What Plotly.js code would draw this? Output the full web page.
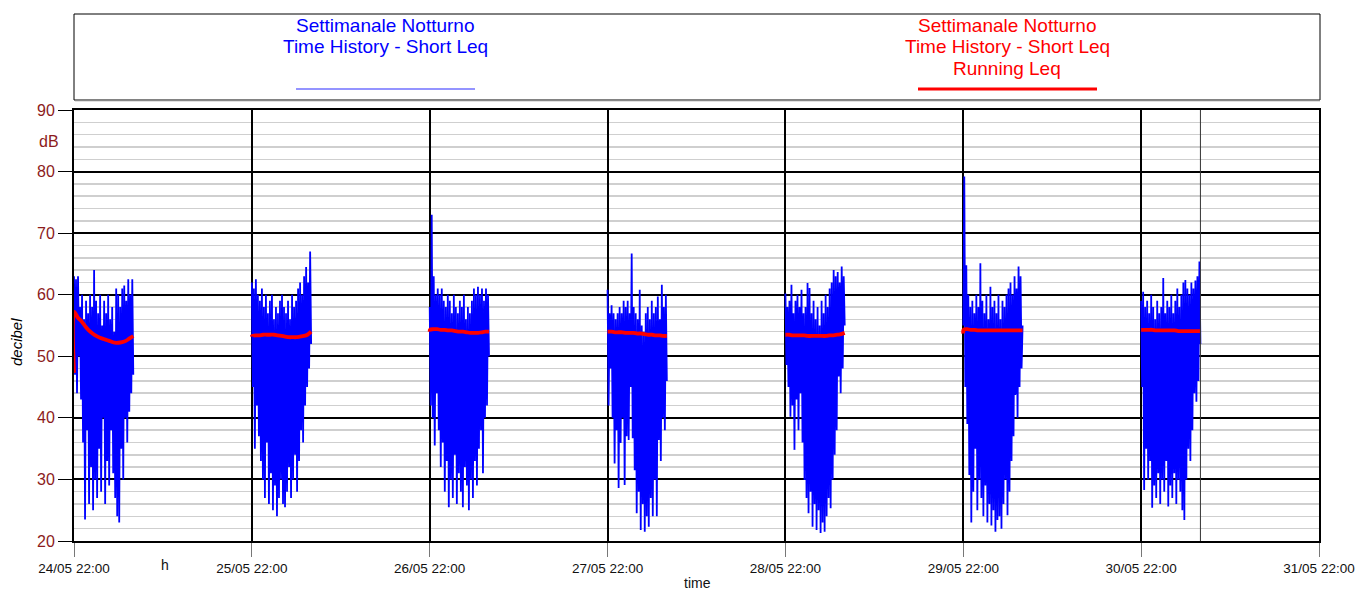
<!DOCTYPE html>
<html>
<head>
<meta charset="utf-8">
<script src="https://cdn.plot.ly/plotly-3.0.1.min.js"></script>
<style>
html,body{margin:0;padding:0;background:#fff;}
#chart{width:1356px;height:592px;}
</style>
</head>
<body>
<div id="chart"></div>
<script>
// ---- data ----
const nightDays = [24, 25, 26, 27, 28, 29, 30];   // May, each night starts 22:00, lasts 8 h

const blueNight1 = [63,47,62.5,44,63,50,58,43,60,36, 56,23.5,59,38,57,26,60,32,58,25, 64,30,59,27,57,35,60,28,55,40,
  59,26,57,33,60,29,56,38,58,31, 54,27,61,24,60,23,58,35,61,30, 61.5,40,59,36,62.5,41,60,44,62.5,47];
const blueNight2 = [62,45,61,35,62.5,42,60,37,59,33, 61,30,58,27,60,36,57,26,59,31, 60,25,56,29,58,24,57,27,59,30,
  60,26,58,25.5,57,28,59,32,56,27, 60,30,58,34,59,28,61,33,62,38, 60,36,63,42,64.5,45,62,48,67,52];
const blueNight3 = [58,42,73,40,63,35.5,60,44,61,38, 60,32,61,36,59,28,58,33,60,25.5, 59,30,57,27,60,34,58,26,57,31,
  59,28,58,25.5,60,32,56,29,58,25, 57,30,59,27,61,33,60,29,61.3,35, 60,38,61,31,59,40,61,42,60,50];
const blueNight4 = [60.8,42,57,48,58.3,40,57,32.6,56,38, 57,28.6,58,35.9,57,40,59,29.1,58,37, 59,36.4,57,45,66.7,36.7,58,31.5,57,24.5,
  56,28,60.8,21.8,55,26,54,21.5,57,24, 58,22.3,56,27,59,24,57,30,58,24, 59.7,36.4,56,33,61.6,40,58,38,60,46];
const blueNight5 = [60.2,48.6,58,45,59,40.2,61.6,42,57,34.8, 59,43,60,38,58,44,60.8,36,57,29.9, 58,27,61.9,24.5,61.1,28,57,22.3,59,26,
  56,21.8,58,25,55,21.3,59,23,57,21.5, 60,24,58,27,61,25.3,62,30,64,34, 63,38,63.7,46.7,62,44,64.6,48,63,55];
const blueNight6 = [55,79.2,45,64.8,39,60,30.7,58,23,59, 28,57,35,60,25,58,30,65.1,27,59, 24,57,29,60,23,56,26,61.3,22.5,58,
  25,59,21.5,57,23.4,60,24,56,22,59, 26,58,30,60,24.2,61,28,62,33,60, 37,63,43.7,61,40,64.6,45,63,48,55];
const blueNight7 = [59,45,60.5,28.3,58,35,59,30,57,33, 60,25.4,58,29,56,27,59,31,57,26, 58,30,62.7,28,57,33,59,25.6,58,29,
  60,27,57,31,59,26,61,30,58,28, 60,25,62,23.4,62.4,30,61,35,60,33, 62,38,61,44,62.3,42.6,63,46,65.4,52];

const redOffsetsMin = [0,2,30,60,90,120,150,180,210,240,270,300,330,360,390,420,450,480];
const redNight1 = [47.3,57.2,56.3,55.7,54.9,54.2,53.7,53.3,53.0,52.8,52.6,52.4,52.2,52.2,52.3,52.5,52.9,53.3];
const redNight2 = [53.2,53.3,53.4,53.4,53.5,53.5,53.5,53.5,53.4,53.3,53.2,53.1,53.1,53.1,53.2,53.3,53.5,54.0];
const redNight3 = [54.0,54.3,54.4,54.4,54.3,54.3,54.2,54.2,54.1,54.0,54.0,53.9,53.8,53.8,53.8,53.9,54.0,54.0];
const redNight4 = [54.0,54.0,54.0,53.9,53.9,53.9,53.8,53.8,53.8,53.7,53.7,53.6,53.5,53.5,53.4,53.4,53.3,53.3];
const redNight5 = [53.5,53.5,53.5,53.4,53.4,53.4,53.4,53.3,53.3,53.3,53.3,53.3,53.3,53.4,53.4,53.5,53.6,53.8];
const redNight6 = [53.7,54.3,54.4,54.3,54.3,54.2,54.2,54.2,54.2,54.2,54.2,54.2,54.2,54.2,54.2,54.2,54.2,54.2];
const redNight7 = [54.3,54.3,54.3,54.3,54.3,54.2,54.2,54.2,54.2,54.2,54.2,54.1,54.1,54.1,54.1,54.1,54.1,54.1];

const legendBlue = ['Settimanale Notturno', 'Time History - Short Leq'];
const legendRed = ['Settimanale Notturno', 'Time History - Short Leq', 'Running Leq'];

// ---- build traces ----
const blueNights = [blueNight1, blueNight2, blueNight3, blueNight4, blueNight5, blueNight6, blueNight7];
const redNights = [redNight1, redNight2, redNight3, redNight4, redNight5, redNight6, redNight7];
const MIN = 60000;
function nightStart(d){ return Date.UTC(2021, 4, d, 22, 0, 0); }

const bx = [], by = [], rx = [], ry = [];
nightDays.forEach((d, i) => {
  const t0 = nightStart(d);
  const vals = blueNights[i];
  const step = 480 / (vals.length - 1);
  vals.forEach((v, k) => { bx.push(t0 + k * step * MIN); by.push(v); });
  bx.push(t0 + 600 * MIN); by.push(null);
  redNights[i].forEach((v, k) => { rx.push(t0 + redOffsetsMin[k] * MIN); ry.push(v); });
  rx.push(t0 + 600 * MIN); ry.push(null);
});

const traces = [
  {x: bx, y: by, type: 'scatter', mode: 'lines', line: {color: '#0000ff', width: 1.8}, connectgaps: false, hoverinfo: 'skip'},
  {x: rx, y: ry, type: 'scatter', mode: 'lines', line: {color: '#ff0000', width: 3.8, shape: 'spline'}, connectgaps: false, hoverinfo: 'skip'}
];

// ---- layout ----
const L = 74, R = 1319, T = 110, B = 541;
const PW = R - L, PH = B - T;
const px = x => (x - L) / PW;
const py = y => (B - y) / PH;
const FONT = 'Liberation Sans, Arial, sans-serif';
const DARKRED = '#8c1c1c';

const annotations = [];
legendBlue.forEach((t, i) => annotations.push({xref: 'paper', yref: 'paper', x: px(385), y: py(25 + 22 * i),
  text: t, showarrow: false, xanchor: 'center', yanchor: 'middle', font: {family: FONT, size: 19, color: '#0000ff'}}));
legendRed.forEach((t, i) => annotations.push({xref: 'paper', yref: 'paper', x: px(1007), y: py(25 + 22 * i),
  text: t, showarrow: false, xanchor: 'center', yanchor: 'middle', font: {family: FONT, size: 19, color: '#ff0000'}}));
annotations.push({xref: 'paper', yref: 'paper', x: px(49), y: py(141), text: 'dB', showarrow: false,
  xanchor: 'center', yanchor: 'middle', font: {family: FONT, size: 16, color: DARKRED}});
annotations.push({xref: 'paper', yref: 'paper', x: px(16), y: py(342), text: '<i>decibel</i>', showarrow: false,
  textangle: -90, xanchor: 'center', yanchor: 'middle', font: {family: FONT, size: 15, color: '#000'}});
annotations.push({xref: 'paper', yref: 'paper', x: px(165), y: py(565), text: 'h', showarrow: false,
  xanchor: 'center', yanchor: 'middle', font: {family: FONT, size: 14, color: '#111'}});
annotations.push({xref: 'paper', yref: 'paper', x: px(697), y: py(583), text: 'time', showarrow: false,
  xanchor: 'center', yanchor: 'middle', font: {family: FONT, size: 14, color: '#111'}});

const shapes = [
  {type: 'rect', xref: 'paper', yref: 'paper', x0: px(74), x1: px(1320), y0: py(100), y1: py(14),
   line: {color: '#000', width: 1}, fillcolor: 'rgba(0,0,0,0)'},
  {type: 'line', xref: 'paper', yref: 'paper', x0: px(75), x1: px(1320), y0: py(100.5), y1: py(100.5),
   line: {color: '#888', width: 1.5}},
  {type: 'line', xref: 'paper', yref: 'paper', x0: px(296), x1: px(475), y0: py(89), y1: py(89),
   line: {color: '#7070ff', width: 1.5}},
  {type: 'line', xref: 'paper', yref: 'paper', x0: px(918), x1: px(1097), y0: py(89), y1: py(89),
   line: {color: '#ff0000', width: 3}},
  {type: 'line', xref: 'x', yref: 'paper', x0: Date.UTC(2021, 4, 31, 6, 0), x1: Date.UTC(2021, 4, 31, 6, 0), y0: 0, y1: 1,
   line: {color: '#333', width: 1}}
];

const layout = {
  width: 1356, height: 592,
  margin: {l: L, r: 1356 - R, t: T, b: 592 - B, pad: 0},
  paper_bgcolor: '#fff', plot_bgcolor: '#fff',
  showlegend: false,
  font: {family: FONT},
  xaxis: {
    type: 'date',
    range: [nightStart(24), nightStart(31)],
    tick0: nightStart(24), dtick: 86400000,
    tickformat: '%d/%m %H:%M',
    ticks: 'outside', ticklen: 14, tickcolor: '#777', tickwidth: 1,
    showgrid: true, gridcolor: '#000', gridwidth: 2,
    showline: true, mirror: true, linecolor: '#000', linewidth: 2,
    zeroline: false,
    tickfont: {family: FONT, size: 13.5, color: '#111'},
    fixedrange: true
  },
  yaxis: {
    range: [20, 90], dtick: 10, tick0: 20,
    ticks: 'outside', ticklen: 14, tickcolor: '#000', tickwidth: 1,
    showgrid: true, gridcolor: '#000', gridwidth: 2,
    minor: {dtick: 2, showgrid: true, gridcolor: '#cfcfcf', gridwidth: 1.5, ticks: ''},
    showline: true, mirror: true, linecolor: '#000', linewidth: 2,
    zeroline: false,
    tickfont: {family: FONT, size: 16, color: DARKRED},
    fixedrange: true
  },
  annotations: annotations,
  shapes: shapes
};

Plotly.newPlot('chart', traces, layout, {staticPlot: true, displayModeBar: false});
</script>
</body>
</html>
